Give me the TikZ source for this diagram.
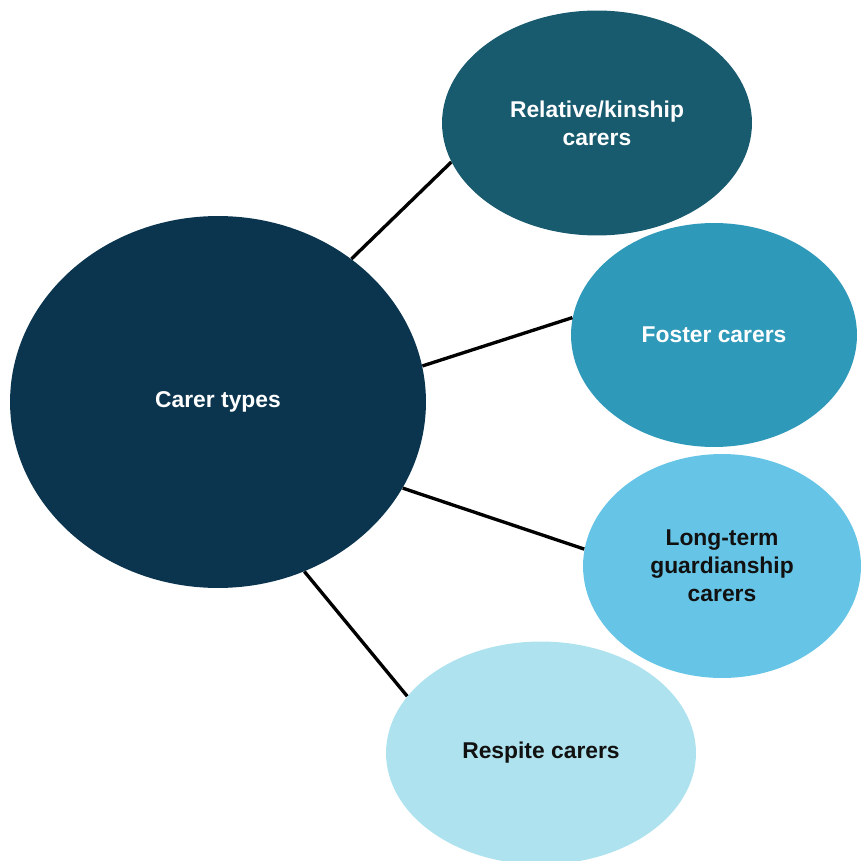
\documentclass[tikz,border=0pt]{standalone}
\usepackage{fontspec}
\setmainfont{Liberation Sans}
\usetikzlibrary{shapes.geometric}
\definecolor{deepsea}{RGB}{11,53,78}
\definecolor{petrol}{RGB}{24,90,110}
\definecolor{lagoon}{RGB}{47,153,185}
\definecolor{skyblue}{RGB}{102,197,230}
\definecolor{mist}{RGB}{173,226,238}
\definecolor{ink}{RGB}{17,17,17}
\tikzset{
  bubble/.style={ellipse,fill=#1,inner sep=0pt,align=center,
    font=\fontsize{13}{16}\selectfont\bfseries,text=white},
  bubble/.default=petrol,
  link/.style={draw=black,line width=1.9pt},
}
\begin{document}
\begin{tikzpicture}[x=0.02cm,y=-0.02cm]
  \useasboundingbox (0,0) rectangle (860,861);
  \node[bubble=deepsea,minimum width=8.32cm,minimum height=7.44cm] (hub) at (218,402) {Carer types};
  \node[bubble=petrol,minimum width=6.2cm,minimum height=4.5cm] (kin) at (597,123) {Relative/kinship\\carers};
  \node[bubble=lagoon,minimum width=5.72cm,minimum height=4.48cm] (foster) at (714,335) {Foster carers};
  \node[bubble=skyblue,text=ink,minimum width=5.56cm,minimum height=4.48cm] (guard) at (722,566) {Long-term\\guardianship\\carers};
  \node[bubble=mist,text=ink,minimum width=6.2cm,minimum height=4.46cm] (respite) at (541,753) {Respite carers};
  % spokes
  \draw[link] (hub.47) -- (kin.195);
  \draw[link] (hub.10) -- (foster.173);
  \draw[link] (hub.-25) -- (guard.173);
  \draw[link] (hub.-63) -- (respite.157);
\end{tikzpicture}
\end{document}
